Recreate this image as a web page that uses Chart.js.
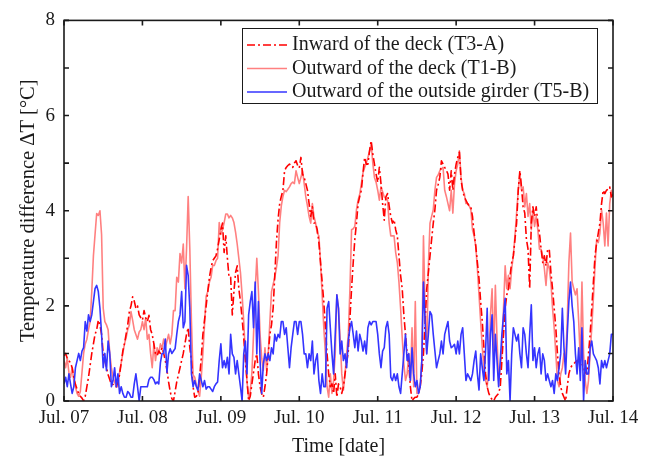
<!DOCTYPE html>
<html>
<head>
<meta charset="utf-8">
<title>Temperature difference</title>
<script src="https://cdn.jsdelivr.net/npm/chart.js@4.4.0/dist/chart.umd.min.js"></script>
<style>
  html, body { margin: 0; padding: 0; background: #fff; }
  canvas { display: block; }
</style>
</head>
<body>
<canvas id="chart" width="662" height="461"></canvas>
<script>
// one label per day, ticks every 24 h
const dayLabels = ['Jul. 07', 'Jul. 08', 'Jul. 09', 'Jul. 10', 'Jul. 11', 'Jul. 12', 'Jul. 13', 'Jul. 14'];

// half-hourly samples, Jul. 07 00:00 .. Jul. 14 00:00 (hours since start)
const halfHours = Array.from({ length: 337 }, (_, i) => i / 2);

// Inward of the deck (T3-A)
const inwardDeck = [
    0.95, 1.0, 0.9, 0.85, 0.8, 0.7, 0.5, 0.35, 0.25, 0.15,
    0.1, 0.06, 0.0, 0.1, 0.3, 0.5, 0.75, 1.0, 1.2, 1.4,
    1.5, 1.7, 1.6, 1.4, 1.0, 0.85, 0.7, 0.55, 0.45, 0.35,
    0.35, 0.3, 0.3, 0.4, 0.55, 0.8, 1.05, 1.2, 1.4, 1.6,
    1.88, 2.0, 2.19, 2.1, 1.95, 2.0, 1.81, 1.75, 1.7, 1.9,
    1.75, 1.67, 1.8, 1.5, 1.4, 1.2, 1.0, 0.95, 1.05, 1.0,
    1.12, 1.0, 0.85, 0.65, 0.4, 0.2, 0.05, 0.0, 0.2, 0.4,
    0.55, 0.7, 0.85, 1.0, 1.2, 1.4, 1.54, 1.12, 0.85, 0.3,
    0.08, 0.1, 0.16, 0.5, 0.9, 1.4, 1.7, 2.0, 2.3, 2.6,
    2.8, 2.95, 3.0, 3.05, 3.2, 3.4, 3.6, 3.74, 3.12, 3.47,
    3.0, 2.6, 2.6, 1.81, 2.3, 2.7, 2.84, 2.36, 2.09, 1.74,
    1.33, 0.85, 0.43, 0.0, 0.1, 0.36, 0.6, 0.85, 0.99, 0.57,
    0.3, 0.15, 0.08, 0.3, 0.57, 0.99, 1.4, 1.6, 1.95, 2.64,
    3.33, 3.81, 4.15, 4.3, 4.43, 4.84, 4.91, 4.95, 4.98, 4.95,
    4.91, 5.0, 5.05, 4.95, 4.9, 5.12, 4.77, 4.7, 4.57, 4.43,
    4.15, 3.88, 4.08, 3.74, 3.74, 3.6, 3.33, 2.91, 2.5, 2.09,
    1.54, 0.99, 0.57, 0.3, 0.36, 0.16, 0.57, 0.08, 0.36, 0.3,
    0.16, 0.3, 0.57, 0.8, 1.05, 1.74, 2.36, 2.91, 3.4, 3.74,
    4.15, 4.3, 4.43, 4.8, 5.12, 4.98, 4.98, 5.26, 5.47, 5.19,
    4.98, 4.77, 4.6, 4.91, 4.57, 4.15, 3.8, 4.29, 4.36, 4.1,
    3.88, 3.74, 3.81, 3.6, 3.47, 3.05, 2.64, 2.36, 1.81, 1.4,
    0.99, 0.78, 0.3, 0.0, 0.05, 0.08, 0.08, 0.15, 0.3, 0.6,
    0.99, 1.67, 2.36, 2.7, 3.05, 3.4, 3.74, 4.02, 4.43, 4.55,
    4.7, 5.05, 4.98, 4.91, 4.85, 4.77, 4.43, 4.84, 4.43, 4.77,
    4.98, 5.12, 5.23, 4.64, 4.43, 4.29, 4.22, 4.15, 4.1, 4.08,
    3.88, 3.53, 3.26, 2.91, 2.57, 2.09, 1.67, 1.12, 0.57, 0.3,
    0.16, 0.08, 0.03, 0.0, 0.08, 0.12, 0.16, 0.3, 0.85, 1.4,
    1.95, 2.23, 2.36, 2.64, 2.91, 3.05, 3.4, 3.74, 4.43, 4.84,
    4.5, 4.08, 3.95, 3.4, 3.19, 2.36, 3.74, 4.08, 3.88, 4.08,
    3.74, 3.53, 3.19, 2.91, 3.05, 2.84, 3.19, 3.19, 2.7, 2.36,
    1.95, 1.54, 0.99, 0.57, 0.3, 0.16, 0.08, 0.0, 0.3, 0.57,
    0.7, 0.75, 0.78, 0.82, 0.85, 0.85, 0.85, 0.78, 0.7, 0.6,
    0.57, 0.99, 1.4, 1.95, 2.5, 3.05, 3.33, 3.53, 3.74, 4.15,
    4.43, 4.36, 4.43, 4.45, 4.5, 4.29, 4.35
];

// Outward of the deck (T1-B)
const outwardDeck = [
    0.85, 0.7, 0.9, 0.6, 0.5, 0.7, 0.43, 0.3, 0.16, 0.1,
    0.2, 0.6, 1.0, 1.2, 1.3, 1.5, 1.67, 2.3, 3.05, 3.5,
    3.94, 3.9, 4.0, 3.5, 1.95, 1.67, 1.6, 1.5, 1.0, 0.7,
    0.5, 0.4, 0.3, 0.3, 0.6, 0.8, 1.0, 1.2, 1.33, 1.5,
    1.6, 1.88, 1.7, 1.5, 1.4, 1.3, 1.45, 1.5, 1.67, 1.5,
    1.75, 1.3, 1.4, 1.0, 0.7, 1.2, 0.85, 1.12, 1.0, 1.2,
    1.1, 1.3, 1.12, 1.26, 1.4, 1.2, 1.4, 1.9, 1.9, 2.6,
    2.5, 3.1, 2.9, 3.3, 2.36, 3.2, 4.3, 3.2, 1.67, 0.55,
    0.5, 0.35, 0.2, 0.1, 0.5, 1.0, 1.6, 2.2, 2.3, 2.5,
    2.6, 2.85, 2.85, 2.95, 3.0, 3.75, 3.5, 3.6, 3.75, 3.93,
    3.93, 3.85, 3.9, 3.85, 3.75, 3.55, 3.3, 3.0, 2.7, 2.23,
    1.67, 1.0, 0.4, 0.08, 0.2, 0.6, 1.4, 2.3, 3.0, 2.3,
    1.4, 0.9, 0.64, 1.12, 0.64, 1.0, 1.67, 2.3, 2.45, 2.6,
    2.8, 3.05, 3.75, 4.1, 4.3, 4.43, 4.4, 4.45, 4.5, 4.57,
    4.6, 4.57, 4.84, 4.7, 4.57, 4.7, 4.84, 4.57, 4.29, 4.1,
    3.88, 3.74, 4.15, 3.88, 3.74, 3.53, 3.47, 2.91, 2.23, 1.54,
    1.0, 0.3, 0.08, 0.57, 0.16, 0.43, 1.0, 2.23, 1.95, 1.33,
    0.57, 0.23, 0.57, 1.0, 1.4, 2.36, 3.6, 3.62, 3.67, 4.02,
    4.22, 4.35, 4.57, 4.8, 4.91, 5.0, 5.12, 5.25, 5.4, 5.0,
    4.7, 4.6, 4.43, 4.22, 4.5, 4.4, 4.29, 4.25, 4.22, 3.74,
    3.47, 3.47, 3.47, 3.12, 2.91, 2.5, 1.95, 1.33, 0.78, 0.43,
    0.57, 1.0, 0.43, 1.54, 0.3, 2.09, 0.16, 0.16, 0.3, 0.85,
    3.47, 1.95, 1.0, 2.84, 3.74, 3.88, 4.02, 4.43, 4.7, 4.75,
    4.84, 4.88, 4.91, 4.43, 4.3, 4.15, 4.0, 4.43, 3.95, 4.57,
    4.84, 4.98, 5.26, 4.7, 4.43, 4.36, 4.15, 4.15, 4.1, 4.02,
    3.6, 3.47, 3.26, 2.78, 2.23, 1.67, 1.12, 0.7, 0.43, 0.3,
    0.7, 1.81, 2.36, 1.0, 2.43, 1.33, 0.43, 0.7, 1.0, 1.95,
    2.84, 2.36, 2.64, 2.36, 2.78, 3.05, 3.47, 3.95, 4.43, 4.77,
    4.43, 4.5, 4.08, 4.36, 3.88, 4.15, 3.6, 4.02, 3.67, 3.88,
    3.6, 3.19, 3.19, 3.05, 2.78, 2.43, 2.91, 2.78, 2.5, 1.95,
    1.54, 1.0, 0.43, 0.3, 0.57, 0.7, 1.0, 0.85, 1.67, 2.91,
    3.53, 2.5, 2.36, 2.23, 2.36, 1.67, 0.85, 2.5, 1.0, 0.43,
    0.16, 0.43, 1.0, 1.54, 2.16, 2.84, 3.4, 3.33, 3.53, 4.02,
    3.74, 3.26, 3.95, 3.26, 4.15, 4.43, 4.3
];

// Outward of the outside girder (T5-B)
const outsideGirder = [
    0.36, 0.5, 0.3, 0.57, 0.36, 0.16, 0.3, 0.7, 0.85, 1.0,
    0.85, 1.05, 1.12, 1.67, 1.47, 1.81, 1.67, 1.81, 2.09, 2.36,
    2.43, 2.3, 1.95, 1.4, 0.7, 1.0, 0.64, 1.26, 1.0, 0.3,
    0.43, 0.7, 0.3, 0.57, 0.16, 0.3, 0.16, 0.08, 0.08, 0.2,
    0.16, 0.08, 0.08, 0.36, 0.57, 0.3, 0.0, 0.3, 0.3, 0.3,
    0.3, 0.3, 0.45, 0.5, 0.5, 0.45, 0.36, 0.4, 0.36, 0.8,
    1.0, 1.0, 1.3, 0.6, 0.99, 1.1, 1.0, 1.05, 1.1, 1.4,
    1.67, 1.81, 2.3, 1.54, 1.67, 2.85, 2.64, 1.95, 0.57, 0.3,
    0.43, 0.3, 0.23, 0.57, 0.43, 0.3, 0.43, 0.25, 0.3, 0.3,
    0.25, 0.2, 0.3, 0.36, 0.4, 0.85, 1.2, 0.7, 0.85, 0.7,
    0.92, 0.57, 1.4, 0.99, 0.92, 0.57, 0.85, 0.57, 0.3, 0.0,
    0.99, 1.26, 0.57, 1.81, 2.09, 2.3, 1.54, 2.5, 0.99, 2.09,
    0.85, 0.16, 0.78, 0.99, 0.85, 0.99, 0.85, 1.12, 0.99, 1.4,
    1.26, 1.4, 1.33, 1.67, 1.67, 1.4, 1.54, 1.12, 0.7, 1.12,
    1.4, 1.67, 1.67, 1.4, 1.67, 1.67, 1.4, 0.99, 0.99, 0.7,
    0.99, 0.85, 1.26, 0.57, 0.85, 0.99, 0.43, 0.16, 0.57, 0.3,
    0.3, 1.95, 2.09, 1.54, 0.99, 0.57, 1.4, 2.23, 1.95, 0.99,
    1.26, 0.85, 0.99, 0.7, 1.26, 1.54, 1.67, 1.4, 1.12, 1.47,
    1.05, 1.4, 1.26, 1.05, 1.26, 0.99, 1.54, 1.67, 1.6, 1.67,
    1.67, 1.67, 1.4, 0.99, 0.7, 1.05, 1.12, 1.54, 1.67, 1.4,
    0.5, 0.43, 0.57, 0.43, 0.57, 0.3, 0.16, 0.57, 0.99, 1.4,
    0.85, 0.99, 0.43, 1.12, 0.57, 0.3, 0.43, 0.16, 0.3, 0.85,
    2.5, 1.67, 0.99, 1.4, 1.88, 1.81, 1.4, 1.05, 0.7, 0.85,
    0.99, 1.26, 0.99, 1.4, 1.54, 1.67, 1.26, 1.12, 1.15, 1.19,
    0.99, 1.26, 0.99, 1.4, 1.54, 0.99, 0.43, 0.57, 0.5, 0.43,
    0.57, 0.85, 1.05, 0.57, 0.23, 0.99, 0.7, 0.43, 1.05, 1.95,
    0.43, 1.4, 1.81, 0.43, 1.4, 0.85, 0.3, 0.85, 1.4, 1.81,
    2.16, 0.57, 0.85, 0.0, 0.99, 1.54, 1.4, 1.26, 1.4, 0.99,
    0.7, 1.54, 1.4, 0.99, 0.7, 1.4, 2.02, 0.85, 1.12, 0.7,
    0.99, 1.12, 0.57, 0.99, 0.85, 0.43, 0.57, 0.43, 0.3, 0.43,
    0.16, 0.57, 0.43, 0.7, 0.99, 1.95, 1.12, 0.57, 1.4, 2.09,
    2.5, 2.0, 1.67, 0.99, 0.57, 1.12, 0.43, 1.54, 0.0, 0.85,
    0.57, 0.57, 1.12, 1.26, 0.99, 0.92, 0.85, 0.7, 0.36, 0.85,
    0.7, 0.85, 0.7, 0.85, 0.99, 1.4, 1.4
];

const FONT = 'Liberation Serif, Times New Roman, serif';
const AXIS_COLOR = '#1a1a1a';
const RED_DASHDOT = [8, 3, 2, 3];

Chart.defaults.font.family = FONT;
Chart.defaults.color = AXIS_COLOR;

const toPoints = values => halfHours.map((t, i) => ({ x: t, y: values[i] }));

// box around the plot with inward tick marks on all four sides
const frameTicks = {
    id: 'frameTicks',
    afterDatasetsDraw(chart) {
        const { ctx, chartArea: a, scales: { x, y } } = chart;
        ctx.save();
        ctx.strokeStyle = AXIS_COLOR;
        ctx.lineWidth = 1.6;
        ctx.beginPath();
        for (let h = 0; h <= 168; h += 24) {
            const px = x.getPixelForValue(h);
            ctx.moveTo(px, a.bottom);
            ctx.lineTo(px, a.bottom - 5);
            ctx.moveTo(px, a.top);
            ctx.lineTo(px, a.top + 5);
        }
        for (let v = 0; v <= 8; v++) {
            const py = y.getPixelForValue(v);
            ctx.moveTo(a.left, py);
            ctx.lineTo(a.left + 5, py);
            ctx.moveTo(a.right, py);
            ctx.lineTo(a.right - 5, py);
        }
        ctx.stroke();
        ctx.strokeRect(a.left, a.top, a.right - a.left, a.bottom - a.top);
        ctx.restore();
    }
};

// boxed legend in the upper right, line samples drawn with each dataset's style
const boxLegend = {
    id: 'boxLegend',
    afterDraw(chart) {
        const { ctx } = chart;
        const box = { left: 242, top: 28, width: 355, height: 75 };
        const rowY = [45, 68.5, 92];
        ctx.save();
        ctx.fillStyle = '#fff';
        ctx.fillRect(box.left, box.top, box.width, box.height);
        ctx.strokeStyle = AXIS_COLOR;
        ctx.lineWidth = 1;
        ctx.strokeRect(box.left + 0.5, box.top + 0.5, box.width, box.height);

        chart.data.datasets.forEach((ds, i) => {
            const yy = rowY[i];
            ctx.strokeStyle = ds.borderColor;
            ctx.lineWidth = ds.borderWidth;
            ctx.setLineDash(ds.borderDash || []);
            ctx.beginPath();
            ctx.moveTo(247, yy);
            ctx.lineTo(287, yy);
            ctx.stroke();
            ctx.setLineDash([]);
            ctx.fillStyle = AXIS_COLOR;
            ctx.font = '20px ' + FONT;
            ctx.textBaseline = 'middle';
            ctx.textAlign = 'left';
            ctx.fillText(ds.label, 292, yy);
        });
        ctx.restore();
    }
};

new Chart(document.getElementById('chart'), {
    type: 'line',
    data: {
        datasets: [
            {
                label: 'Inward of the deck (T3-A)',
                data: toPoints(inwardDeck),
                borderColor: '#ff0000',
                borderWidth: 1.6,
                borderDash: RED_DASHDOT,
                order: 2
            },
            {
                label: 'Outward of the deck (T1-B)',
                data: toPoints(outwardDeck),
                borderColor: '#ff8080',
                borderWidth: 1.6,
                order: 3
            },
            {
                label: 'Outward of the outside girder (T5-B)',
                data: toPoints(outsideGirder),
                borderColor: '#3434ff',
                borderWidth: 1.6,
                order: 1
            }
        ]
    },
    options: {
        responsive: false,
        animation: false,
        events: [],
        elements: {
            point: { radius: 0 },
            line: { tension: 0, borderJoinStyle: 'round' }
        },
        layout: {
            padding: { top: 14, right: 49, bottom: 0, left: 0 }
        },
        plugins: {
            legend: { display: false },
            tooltip: { enabled: false }
        },
        scales: {
            x: {
                type: 'linear',
                min: 0,
                max: 168,
                afterFit: scale => { scale.height = 60; },
                grid: { display: false, drawTicks: false },
                border: { display: false },
                ticks: {
                    stepSize: 24,
                    autoSkip: false,
                    maxRotation: 0,
                    padding: 6,
                    font: { size: 19 },
                    callback: v => dayLabels[v / 24]
                },
                title: {
                    display: true,
                    text: 'Time [date]',
                    font: { size: 20 },
                    padding: { top: 0, bottom: 2 }
                }
            },
            y: {
                min: 0,
                max: 8,
                afterFit: scale => { scale.width = 64; },
                grid: { display: false, drawTicks: false },
                border: { display: false },
                ticks: {
                    stepSize: 2,
                    padding: 9,
                    font: { size: 19 }
                },
                title: {
                    display: true,
                    text: 'Temperature difference ΔT [°C]',
                    font: { size: 20.5 },
                    padding: { top: 16, bottom: 0 }
                }
            }
        }
    },
    plugins: [frameTicks, boxLegend]
});
</script>
</body>
</html>
